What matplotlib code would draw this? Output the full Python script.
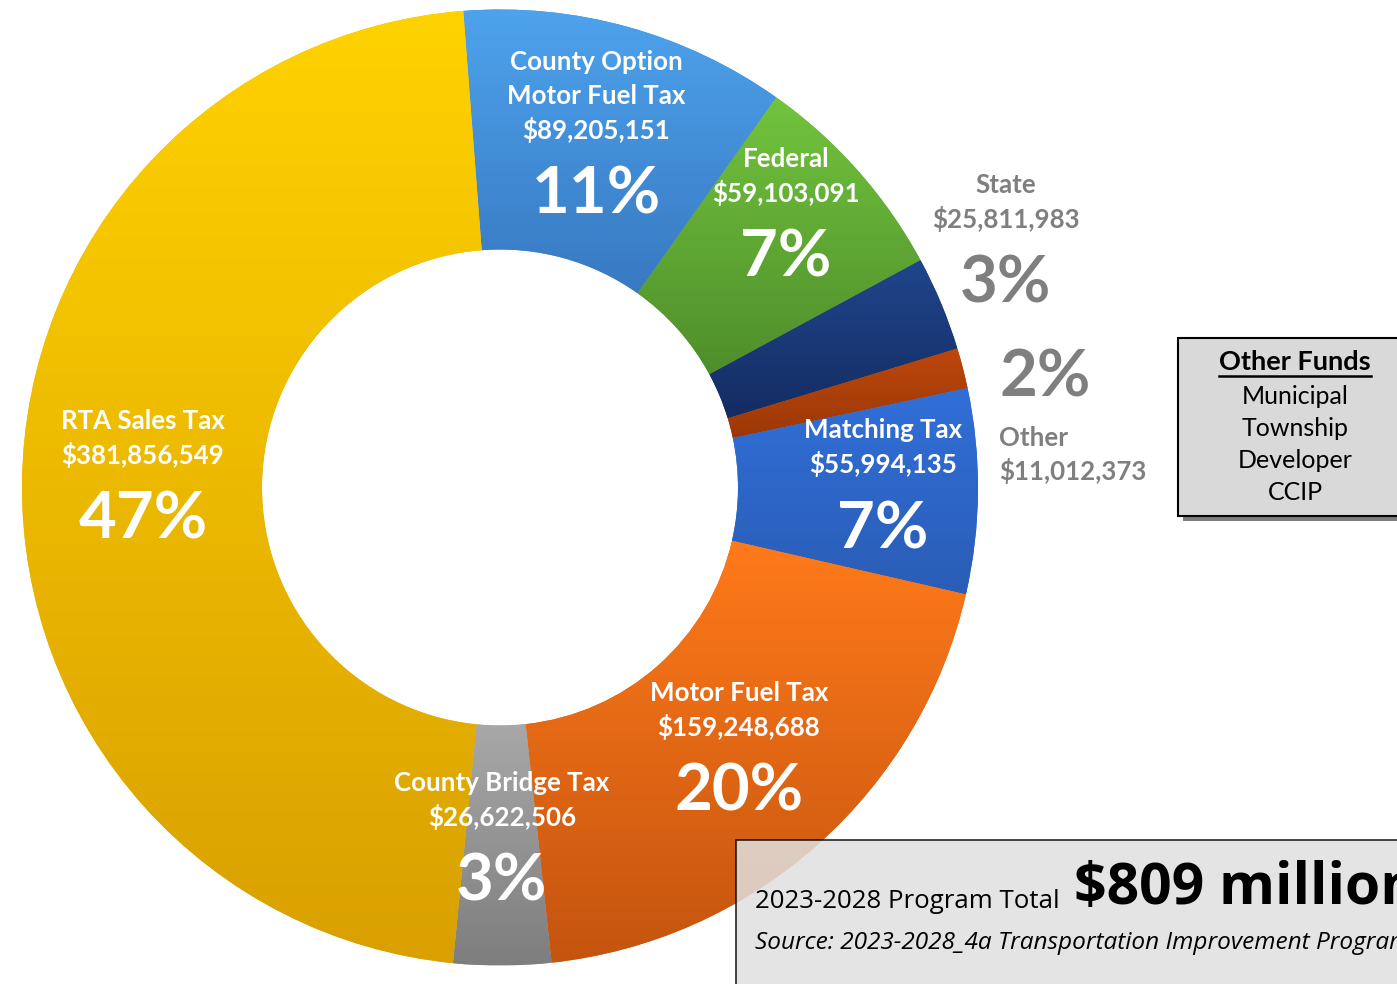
import matplotlib
matplotlib.use('Agg')
import matplotlib.pyplot as plt
import numpy as np
from matplotlib.colors import to_rgb
from matplotlib.patches import Rectangle
from matplotlib.lines import Line2D

# ---------------- data ----------------
categories = ["County Option\nMotor Fuel Tax", "Federal", "State", "Other",
              "Matching Tax", "Motor Fuel Tax", "County Bridge Tax", "RTA Sales Tax"]
amounts = [89205151, 59103091, 25811983, 11012373,
           55994135, 159248688, 26622506, 381856549]
pct_labels = ["11%", "7%", "3%", "2%", "7%", "20%", "3%", "47%"]
other_funds_title = "Other Funds"
other_funds = ["Municipal", "Township", "Developer", "CCIP"]
total_caption = "2023-2028 Program Total"
total_value = "$809 million"
source_text = "Source: 2023-2028_4a Transportation Improvement Program"

# ---------------- styles ----------------
grad_colors = [
    ("#4DA3EC", "#3879C2"),   # County Option
    ("#72C43E", "#4F8E2B"),   # Federal
    ("#20468C", "#142C62"),   # State
    ("#BD470C", "#9C3806"),   # Other
    ("#316FD8", "#2A5DB6"),   # Matching
    ("#FF7A1A", "#C4540F"),   # Motor Fuel
    ("#A8A8A8", "#7E7E7E"),   # County Bridge
    ("#FFD200", "#D9A000"),   # RTA
]
W, H = 1397, 984
FONT = "Lato"

fig = plt.figure(figsize=(W / 100, H / 100), dpi=100)
ax = fig.add_axes([0, 0, 1, 1])
ax.set_xlim(0, W)
ax.set_ylim(0, H)
ax.axis('off')

def Y(py):
    return H - py

cx, cy, R = 500, Y(487.5), 478
wedges, _ = ax.pie(amounts, radius=R, center=(cx, cy), startangle=94.4,
                   counterclock=False, frame=True,
                   wedgeprops=dict(width=240, linewidth=0))
ax.set_xlim(0, W)
ax.set_ylim(0, H)
ax.axis('off')

for w, (c1, c2) in zip(wedges, grad_colors):
    ext = w.get_path().get_extents()
    c1, c2 = np.array(to_rgb(c1)), np.array(to_rgb(c2))
    t = np.linspace(0, 1, 256)[:, None]
    img = (c1[None, :] * (1 - t) + c2[None, :] * t)[:, None, :]
    w.set_facecolor(tuple((c1 + c2) / 2))
    im = ax.imshow(img, extent=(ext.x0, ext.x1, ext.y0, ext.y1), origin='upper',
                   aspect='auto', interpolation='bilinear', zorder=w.get_zorder() + 0.1)
    im.set_clip_path(w)
ax.set_xlim(0, W)
ax.set_ylim(0, H)

# ---------------- slice labels ----------------
WHITE, GRAY = "white", "#7F7F7F"
# (x, first name line y, amount y, pct y, color)
layout = {
    0: (596, 62, 130, 195, WHITE),
    1: (786, 159, 193, 258, WHITE),
    2: (1006, 185, 219, 284, GRAY),
    4: (883, 430, 464, 530, WHITE),
    5: (739, 693, 727, 792, WHITE),
    6: (502, 783, 817, 882, WHITE),
    7: (143, 421, 455, 520, WHITE),
}
name_fs, pct_fs = 18.6, 47
for i, (x, yn, ya, yp, col) in layout.items():
    lines = categories[i].split("\n")
    for k, ln in enumerate(lines):
        ax.text(x, Y(yn + 34 * k), ln, ha='center', va='center', color=col,
                fontsize=name_fs, fontweight='bold', family=FONT, zorder=5)
    ax.text(x, Y(ya), f"${amounts[i]:,}", ha='center', va='center', color=col,
            fontsize=name_fs, fontweight='bold', family=FONT, zorder=5)
    ax.text(x, Y(yp), pct_labels[i], ha='center', va='center', color=col,
            fontsize=pct_fs, fontweight='bold', family=FONT, zorder=5)

# "Other" slice label (outside, left aligned)
ax.text(1045, Y(378), pct_labels[3], ha='center', va='center', color=GRAY,
        fontsize=pct_fs, fontweight='bold', family=FONT, zorder=5)
ax.text(999, Y(438), categories[3], ha='left', va='center', color=GRAY,
        fontsize=name_fs, fontweight='bold', family=FONT, zorder=5)
ax.text(999, Y(471), f"${amounts[3]:,}", ha='left', va='center', color=GRAY,
        fontsize=name_fs, fontweight='bold', family=FONT, zorder=5)

# ---------------- Other Funds box ----------------
ax.add_patch(Rectangle((1183, Y(521)), 240, 178, facecolor="#7F7F7F",
                       edgecolor='none', zorder=6))
ax.add_patch(Rectangle((1178, Y(516)), 240, 178, facecolor="#D9D9D9",
                       edgecolor='black', linewidth=1.5, zorder=7))
tt = ax.text(1295, Y(362), other_funds_title, ha='center', va='center', color='black',
             fontsize=19.5, fontweight='bold', family=FONT, zorder=8)
for k, s in enumerate(other_funds):
    ax.text(1295, Y(396 + 32 * k), s, ha='center', va='center', color='black',
            fontsize=18, family=FONT, zorder=8)
fig.canvas.draw()
bb = tt.get_window_extent().transformed(ax.transData.inverted())
ax.add_line(Line2D([bb.x0, bb.x1], [Y(376), Y(376)], color='black', lw=1.8, zorder=8))

# ---------------- total box ----------------
ax.add_patch(Rectangle((736, -20), 700, Y(840) + 20, facecolor="#E0E0E0", alpha=0.85,
                       edgecolor='black', linewidth=1.2, zorder=6))
ax.text(755, Y(901), total_caption, ha='left', va='center', color='black',
        fontsize=18.6, family="Open Sans", zorder=8)
ax.text(1074, Y(889), total_value, ha='left', va='center', color='black',
        fontsize=41, fontweight='bold', family="Open Sans", zorder=8)
ax.text(755, Y(943), source_text, ha='left', va='center', color='black',
        fontsize=17.6, style='italic', family="Open Sans", zorder=8)

fig.savefig("out.png", dpi=100)
